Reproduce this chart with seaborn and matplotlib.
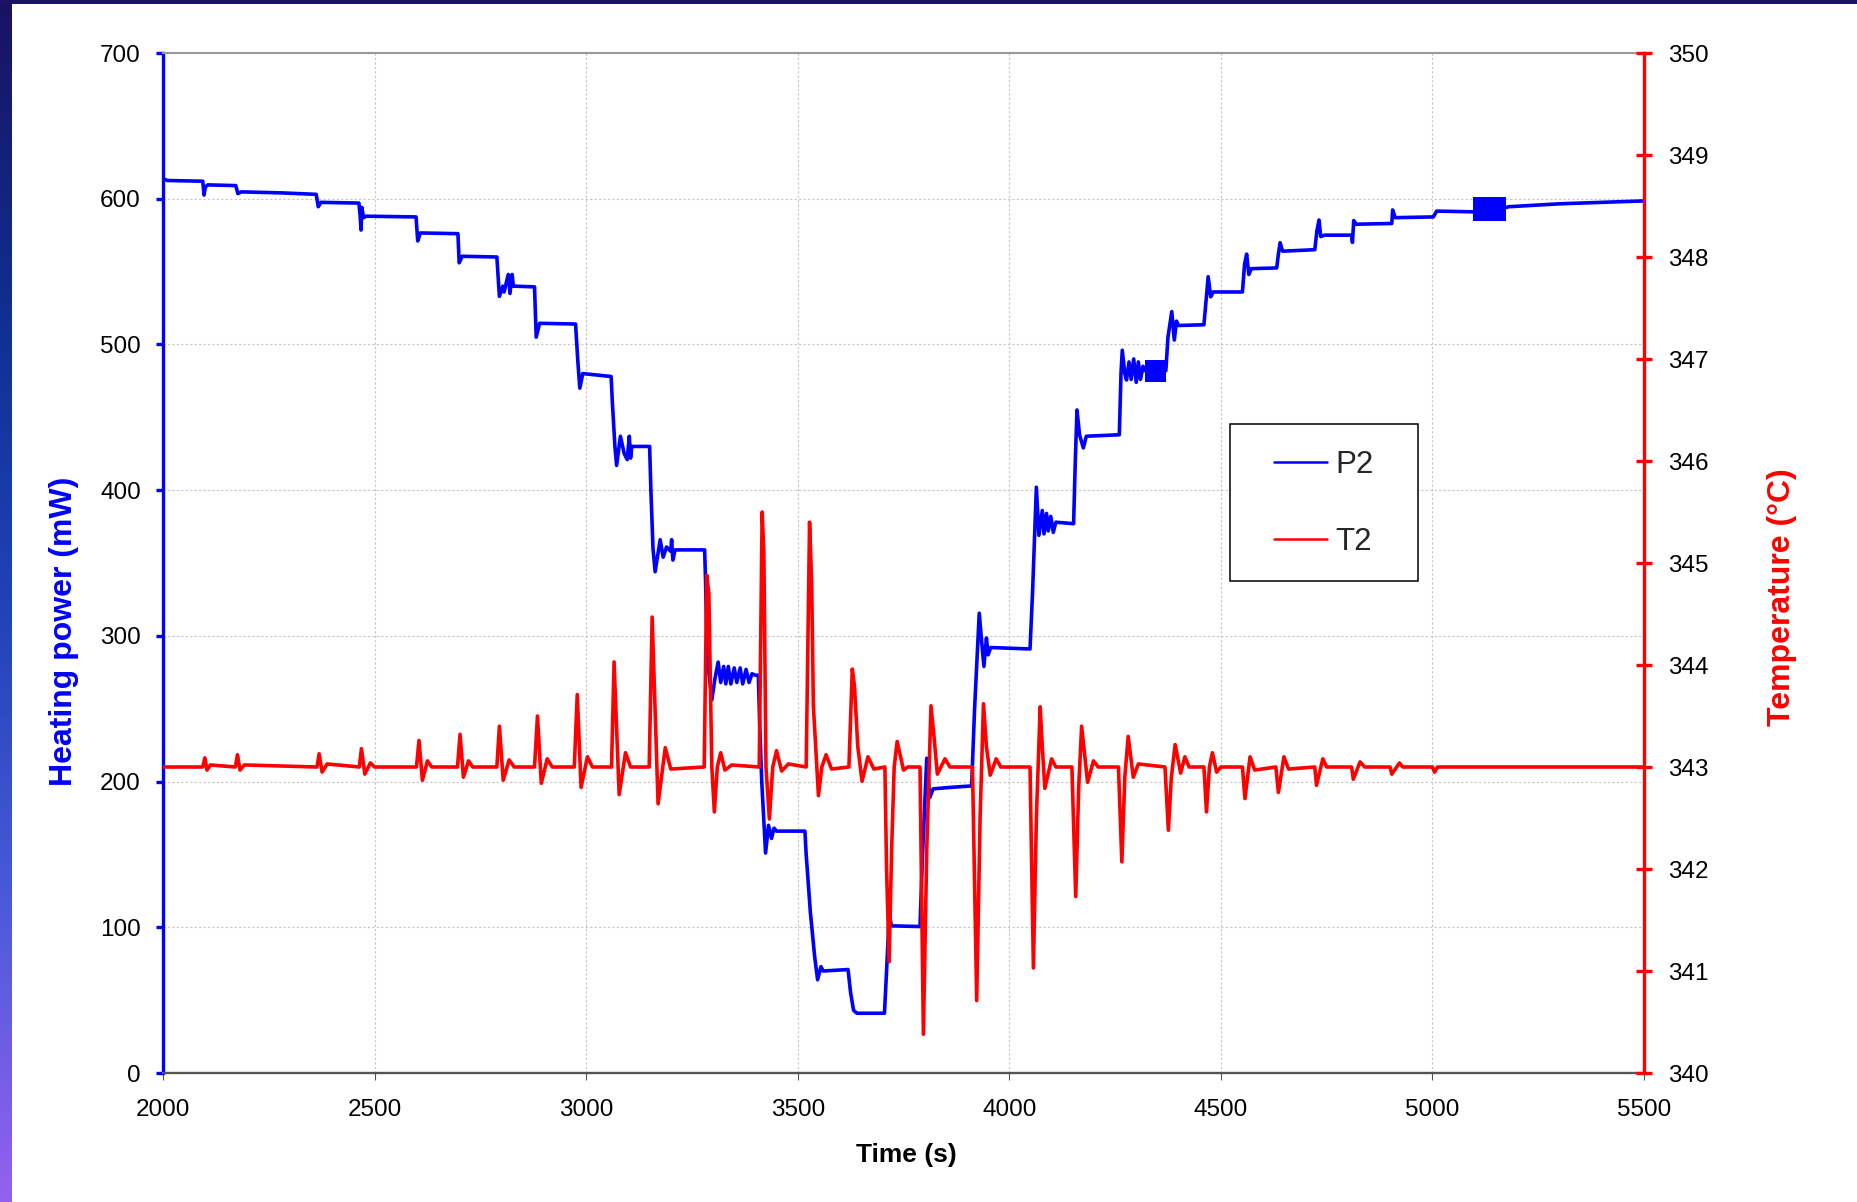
import numpy as np
import pandas as pd
import matplotlib
matplotlib.use("Agg")
import matplotlib.pyplot as plt
from matplotlib.lines import Line2D
from matplotlib.patches import Rectangle
from matplotlib.colors import LinearSegmentedColormap
import seaborn as sns

# ---------------- data ----------------
p2_time = [2000, 2010, 2094, 2097, 2100, 2106, 2172, 2177, 2185, 2280, 2362, 2367, 2373,
           2463, 2466, 2468, 2470, 2474, 2480, 2598, 2602, 2608, 2697, 2700, 2707, 2789,
           2795, 2803, 2806, 2816, 2820, 2825, 2828, 2878, 2882, 2890, 2975, 2980, 2985,
           2992, 3059, 3062, 3068, 3072, 3081, 3090, 3097, 3102, 3105, 3108, 3150, 3153,
           3158, 3163, 3175, 3182, 3190, 3200, 3202, 3205, 3210, 3280, 3282, 3285, 3290,
           3297, 3304, 3312, 3318, 3325, 3330, 3336, 3342, 3350, 3356, 3364, 3370, 3378,
           3385, 3392, 3400, 3407, 3410, 3415, 3424, 3431, 3438, 3444, 3450, 3517, 3520,
           3530, 3540, 3547, 3555, 3560, 3619, 3625, 3632, 3640, 3705, 3710, 3716, 3722,
           3789, 3795, 3805, 3812, 3820, 3860, 3911, 3918, 3929, 3935, 3940, 3946, 3950,
           3956, 4049, 4055, 4064, 4070, 4078, 4082, 4088, 4092, 4098, 4104, 4110, 4152,
           4156, 4160, 4166, 4175, 4182, 4260, 4264, 4267, 4273, 4277, 4283, 4288, 4294,
           4300, 4305, 4310, 4316, 4320, 4370, 4375, 4384, 4390, 4395, 4400, 4460, 4465,
           4470, 4476, 4482, 4551, 4556, 4561, 4566, 4572, 4632, 4636, 4640, 4646, 4722,
           4727, 4732, 4736, 4745, 4809, 4811, 4814, 4820, 4904, 4906, 4912, 5002, 5010,
           5097, 5175, 5180, 5300, 5500]
p2_power = [614, 612.5, 612, 602.5, 608, 609.5, 609, 603.5, 604.7, 604, 603, 594.5, 597.5,
            597, 588, 578.5, 594, 587, 588, 587.5, 571, 576.5, 576, 556, 560.5, 560,
            533, 540, 536, 548, 535, 548, 540, 539.5, 505, 514.5, 514, 490, 470,
            480, 478, 460, 430, 417, 437, 425, 421, 437, 422, 430, 430, 400,
            360, 344, 366, 354, 361, 358, 366, 352, 359, 359, 340, 300, 275,
            256, 270, 282, 268, 279, 267, 279, 267, 278, 268, 278, 267, 277,
            268, 274, 273, 273, 240, 200, 151, 170, 161, 168, 166, 166, 150,
            110, 80, 64, 73, 70, 71, 55, 43, 41, 41, 70, 108, 101,
            100.5, 150, 216, 189, 195, 196, 197, 250, 315.5, 295, 279, 298.5, 287,
            292, 291, 330, 402, 369, 386, 370, 384, 372, 382, 371, 378, 377,
            420, 455, 438, 429, 437, 438, 480, 496, 480, 475.6, 488, 476, 490,
            474, 488, 476, 485, 482, 482, 505, 522.5, 503, 516, 513, 513.5, 530,
            546.5, 532.7, 536, 536, 555, 562, 548, 552, 552.5, 562, 569.8, 564, 565,
            578, 585.4, 574, 575, 575, 570, 585, 582.5, 583, 592.3, 587, 587.5, 591.5,
            591, 594, 594.5, 596.5, 598.5]

# fast-oscillation blocks of P2 (drawn as filled bands)
band_start = [4321, 5097]
band_end = [4370, 5175]
band_low = [474, 585]
band_high = [489, 601]

t2_time = [2000, 2094, 2099, 2104, 2112, 2171, 2176, 2182, 2192, 2364, 2369, 2376, 2388,
           2464, 2469, 2477, 2490, 2500, 2599, 2605, 2613, 2625, 2635, 2696, 2702, 2710,
           2722, 2732, 2789, 2795, 2804, 2818, 2830, 2878, 2885, 2894, 2908, 2920, 2972,
           2979, 2988, 3003, 3015, 3060, 3066, 3078, 3093, 3105, 3149, 3156, 3170, 3187,
           3200, 3279, 3285, 3290, 3297, 3303, 3310, 3318, 3328, 3344, 3409, 3416, 3420,
           3425, 3433, 3441, 3450, 3462, 3478, 3520, 3528, 3533, 3537, 3549, 3557, 3567,
           3580, 3621, 3629, 3634, 3642, 3652, 3666, 3680, 3706, 3710, 3716, 3722, 3728,
           3735, 3750, 3760, 3789, 3797, 3805, 3815, 3822, 3830, 3848, 3860, 3913, 3923,
           3931, 3939, 3946, 3955, 3969, 3980, 4049, 4057, 4064, 4073, 4078, 4084, 4100,
           4110, 4148, 4157, 4164, 4171, 4185, 4199, 4210, 4258, 4266, 4273, 4281, 4293,
           4305, 4368, 4376, 4383, 4392, 4405, 4415, 4425, 4460, 4466, 4473, 4480, 4490,
           4500, 4551, 4557, 4569, 4580, 4630, 4636, 4649, 4660, 4722, 4726, 4741, 4750,
           4809, 4813, 4829, 4840, 4900, 4904, 4922, 4930, 5000, 5005, 5012, 5500]
t2_temp = [343.00, 343.00, 343.09, 342.97, 343.02, 343.00, 343.12, 342.97, 343.02, 343.00,
           343.13, 342.95, 343.03, 343.00, 343.18, 342.93, 343.04, 343.00, 343.00, 343.26,
           342.87, 343.06, 343.00, 343.00, 343.32, 342.90, 343.06, 343.00, 343.00, 343.40,
           342.87, 343.07, 343.00, 343.00, 343.50, 342.84, 343.08, 343.00, 343.00, 343.71,
           342.80, 343.10, 343.00, 343.00, 344.03, 342.73, 343.14, 343.00, 343.00, 344.47,
           342.64, 343.19, 342.98, 343.00, 344.88, 344.70, 343.00, 342.56, 343.00, 343.14,
           342.97, 343.02, 343.00, 345.50, 345.10, 343.00, 342.49, 343.00, 343.16, 342.96,
           343.03, 343.00, 345.40, 344.80, 343.60, 342.72, 343.00, 343.12, 342.98, 343.00,
           343.96, 343.80, 343.20, 342.86, 343.10, 342.98, 343.00, 342.00, 341.09, 342.20,
           343.00, 343.25, 342.97, 343.00, 343.00, 340.38, 342.20, 343.60, 343.30, 342.93,
           343.08, 343.00, 343.00, 340.71, 342.50, 343.62, 343.20, 342.92, 343.08, 343.00,
           343.00, 341.03, 342.50, 343.59, 343.20, 342.79, 343.08, 343.00, 343.00, 341.73,
           342.80, 343.40, 342.85, 343.06, 343.00, 343.00, 342.07, 342.90, 343.30, 342.90,
           343.03, 343.00, 342.38, 342.90, 343.22, 342.94, 343.10, 343.00, 343.00, 342.56,
           343.00, 343.14, 342.95, 343.00, 343.00, 342.69, 343.10, 342.97, 343.00, 342.75,
           343.10, 342.98, 343.00, 342.82, 343.08, 343.00, 343.00, 342.88, 343.05, 343.00,
           343.00, 342.93, 343.04, 343.00, 343.00, 342.95, 343.00, 343.00]

x_ticks = [2000, 2500, 3000, 3500, 4000, 4500, 5000, 5500]
p_ticks = [0, 100, 200, 300, 400, 500, 600, 700]
t_ticks = [340, 341, 342, 343, 344, 345, 346, 347, 348, 349, 350]

# ---------------- style ----------------
sns.set_style("white")
plt.rcParams["font.family"] = ["Liberation Sans", "DejaVu Sans"]

W, H = 1857, 1202
fig = plt.figure(figsize=(W / 100, H / 100), dpi=100)
fig.patch.set_facecolor("white")

# slide decoration: left gradient bar and top strip
cmap = LinearSegmentedColormap.from_list(
    "slide", ["#1a1262", "#0f2e8e", "#1f42b8", "#4a5ad8", "#9361f0"])
gax = fig.add_axes([0, 0, 12 / W, 1])
gax.imshow(np.linspace(0, 1, 256).reshape(-1, 1), aspect="auto", cmap=cmap)
gax.set_axis_off()
fig.add_artist(Rectangle((0, 1 - 4 / H), 1, 4 / H, transform=fig.transFigure,
                         facecolor="#1a1466", edgecolor="none"))

ax = fig.add_axes([163 / W, 1 - 1073 / H, 1481 / W, 1020 / H])
ax2 = ax.twinx()

dfP = pd.DataFrame({"t": p2_time, "P": p2_power})
dfT = pd.DataFrame({"t": t2_time, "T": t2_temp})

sns.lineplot(data=dfP, x="t", y="P", ax=ax, color="#0000ff", lw=2.6,
             sort=False, estimator=None, legend=False)
for s, e, lo, hi in zip(band_start, band_end, band_low, band_high):
    ax.fill_between([s, e], [lo, lo], [hi, hi], color="#0000ff", lw=0)
sns.lineplot(data=dfT, x="t", y="T", ax=ax2, color="#ff0000", lw=2.6,
             sort=False, estimator=None, legend=False)

ax.set_xlim(2000, 5500)
ax.set_ylim(0, 700)
ax2.set_ylim(340, 350)
ax.set_xticks(x_ticks)
ax.set_yticks(p_ticks)
ax2.set_yticks(t_ticks)

ax.grid(True, color="#c4c4c4", lw=0.8, linestyle=(0, (2, 2)))
ax.set_axisbelow(True)

# spines
for sp in ax2.spines.values():
    sp.set_visible(False)
ax2.spines["right"].set_visible(True)
ax2.spines["right"].set_color("#ff0000")
ax2.spines["right"].set_linewidth(2.4)
ax.spines["right"].set_visible(False)
ax.spines["left"].set_color("#0000ff")
ax.spines["left"].set_linewidth(2.4)
ax.spines["top"].set_color("#999999")
ax.spines["top"].set_linewidth(1.5)
ax.spines["bottom"].set_color("#555555")
ax.spines["bottom"].set_linewidth(1.7)

ax.tick_params(axis="y", direction="out", length=5, width=2.4, color="#0000ff",
               labelsize=17.5, labelcolor="black", pad=11, left=True)
ax.tick_params(axis="x", direction="out", length=5, width=0.8, color="#555555",
               labelsize=17.5, labelcolor="black", pad=13.5, bottom=True)
ax2.tick_params(axis="y", direction="inout", length=11, width=2.4, color="#ff0000",
                labelsize=17.5, labelcolor="black", pad=12, right=True)

ax.set_xlabel("Time (s)", fontsize=19, fontweight="bold", color="black", va="center")
ax.xaxis.set_label_coords((906 - 163) / 1481, -(1155 - 1073) / 1020)
ax.set_ylabel("Heating power (mW)", fontsize=23, fontweight="bold", color="#0000ff",
              va="center", ha="center")
ax.yaxis.set_label_coords((64 - 163) / 1481, (1073 - 631) / 1020)
ax2.set_ylabel("Temperature (°C)", fontsize=23, fontweight="bold", color="#ff0000",
               va="center", ha="center")
ax2.yaxis.set_label_coords((1782 - 163) / 1481, (1073 - 597) / 1020)

# legend
fig.add_artist(Rectangle((1230 / W, 1 - 581 / H), 188 / W, 157 / H,
                         transform=fig.transFigure, facecolor="white",
                         edgecolor="black", lw=1.1, zorder=5))
handles = [Line2D([0], [0], color="#0000ff", lw=1.8),
           Line2D([0], [0], color="#ff0000", lw=1.8)]
leg = ax2.legend(handles, ["P2", "T2"], loc="center", frameon=False,
                 bbox_to_anchor=(1324 / W, 1 - 503.5 / H), bbox_transform=fig.transFigure,
                 fontsize=22.5, handlelength=1.7, handletextpad=0.25, labelspacing=1.5)
leg.set_zorder(6)
fig.add_artist(leg)

fig.savefig("out.png", dpi=100)
